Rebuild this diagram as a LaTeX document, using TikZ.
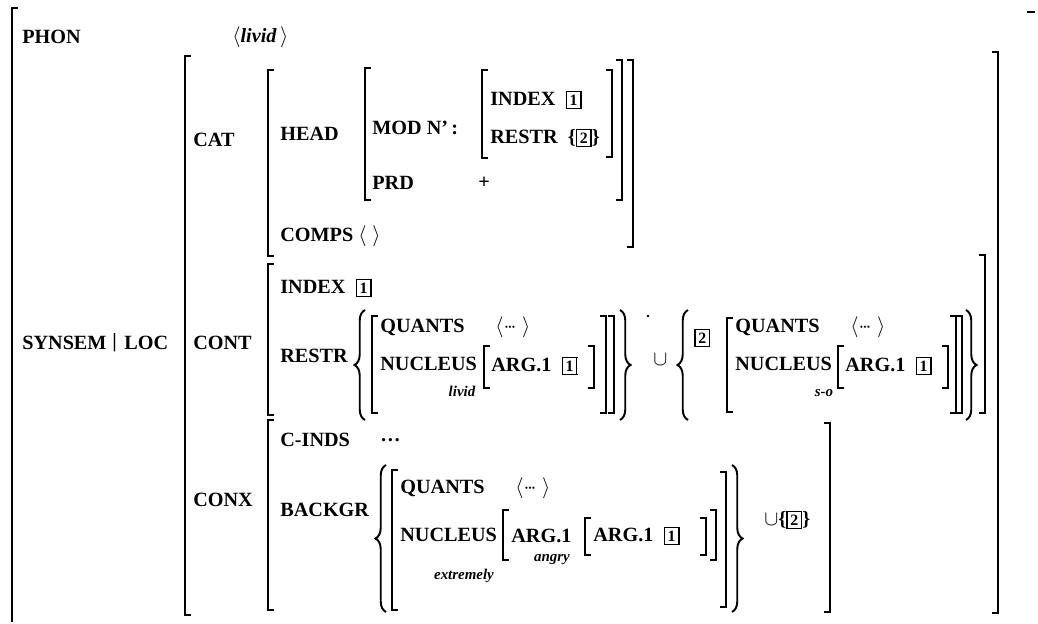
\documentclass[tikz,border=0pt]{standalone}
\usepackage{fontspec}
\setmainfont{Liberation Serif}
\usepackage{tikz}
\usetikzlibrary{decorations.pathreplacing}

\newcommand{\lbrk}[3]{\draw[brk] (#1+6,#2) -- (#1,#2) -- (#1,#3) -- (#1+6,#3);}
\newcommand{\rbrk}[3]{\draw[brk] (#1-6,#2) -- (#1,#2) -- (#1,#3) -- (#1-6,#3);}
\newcommand{\tg}[1]{{\setlength{\fboxsep}{1.5pt}\setlength{\fboxrule}{0.8pt}\fbox{\small #1}}}
\newcommand{\dts}{$\langle{\cdot}\mkern-2mu{\cdot}\mkern-2mu{\cdot}\;\rangle$}

\begin{document}
\begin{tikzpicture}[x=0.02cm, y=-0.02cm, font=\fontsize{11.5}{13}\selectfont\bfseries,
    brk/.style={line width=1.1pt},
    attr/.style={anchor=west, inner sep=0pt},
    sub/.style={anchor=center, inner sep=0pt, font=\fontsize{8.5}{10}\selectfont\bfseries\itshape},
    brc/.style={line width=1.1pt, decorate, decoration={brace, amplitude=6pt}}]
    \useasboundingbox (0,0) rectangle (1038,624);

    % outer matrix
    \draw[brk] (18,8) -- (12,8) -- (12,622);
    \draw[brk] (1027,12) -- (1035,12);
    \node[attr] (phon) at (22,37) {PHON};
    \node[attr] (phonv) at (232,37) {$\langle$\textit{livid}\,$\rangle$};
    \node[attr] (synsem) at (22,343) {SYNSEM};
    \node[attr] (bar) at (112,343) {\textbar};
    \node[attr] (loc) at (124,343) {LOC};

    % LOC value
    \lbrk{185}{56}{615}
    \rbrk{998}{52}{613}

    % CAT
    \node[attr] (cat) at (193,140) {CAT};
    \lbrk{268}{70}{256}
    \rbrk{633}{60}{247}
    \node[attr] (head) at (280,134) {HEAD};
    \lbrk{365}{68}{200}
    \rbrk{622}{60}{200}
    \node[attr] (mod) at (372,128) {MOD N'\,:};
    \lbrk{482}{70}{158}
    \rbrk{612}{70}{157}
    \node[attr] (indexa) at (490,100) {INDEX~~\tg{1}};
    \node[attr] (restra) at (490,138) {RESTR~~\{\tg{2}\}};
    \node[attr] (prd) at (372,183) {PRD};
    \node[attr] (prdv) at (478,183) {+};
    \node[attr] (comps) at (280,236) {COMPS $\langle\;\rangle$};

    % CONT
    \node[attr] (cont) at (193,343) {CONT};
    \lbrk{268}{264}{415}
    \rbrk{985}{255}{413}
    \node[attr] (indexb) at (280,288) {INDEX~~\tg{1}};
    \node[attr] (restrb) at (280,356) {RESTR};
    \draw[brc] (365,420) -- (365,310);
    \lbrk{372}{316}{413}
    \node[attr] (quantsa) at (380,327) {QUANTS};
    \node[attr] (quantsav) at (495,327) {\dts};
    \node[attr] (nucla) at (380,364) {NUCLEUS};
    \node[sub] (livid) at (462,391) {livid};
    \lbrk{484}{346}{388}
    \node[attr] (arga) at (491,366) {ARG.1~~\tg{1}};
    \rbrk{594}{346}{388}
    \rbrk{606}{316}{413}
    \rbrk{614}{316}{413}
    \draw[brc] (620,310) -- (620,420);
    \fill (648,316) circle (1.3);
    \node[attr] (cupa) at (653,360) {$\cup$};
    \draw[brc] (688,420) -- (688,310);
    \node[attr] (tagb) at (694,338) {\tg{2}};
    \lbrk{727}{318}{412}
    \node[attr] (quantsb) at (735,327) {QUANTS};
    \node[attr] (quantsbv) at (850,327) {\dts};
    \node[attr] (nuclb) at (735,364) {NUCLEUS};
    \node[sub] (so) at (824,393) {s-o};
    \lbrk{838}{346}{388}
    \node[attr] (argb) at (845,366) {ARG.1~~\tg{1}};
    \rbrk{948}{346}{388}
    \rbrk{956}{316}{413}
    \rbrk{962}{316}{413}
    \draw[brc] (966,310) -- (966,420);

    % CONX
    \node[attr] (conx) at (193,500) {CONX};
    \lbrk{268}{420}{610}
    \rbrk{830}{423}{612}
    \node[attr] (cinds) at (280,440) {C-INDS};
    \node[attr] (cindsv) at (380,440) {\dots};
    \node[attr] (backgr) at (280,510) {BACKGR};
    \draw[brc] (386,612) -- (386,465);
    \lbrk{392}{470}{610}
    \node[attr] (quantsc) at (400,488) {QUANTS};
    \node[attr] (quantscv) at (515,488) {\dts};
    \node[attr] (nuclc) at (400,535) {NUCLEUS};
    \node[sub] (extr) at (464,576) {extremely};
    \lbrk{503}{510}{560}
    \node[attr] (argc) at (511,536) {ARG.1};
    \node[sub] (angry) at (552,560) {angry};
    \lbrk{585}{518}{555}
    \node[attr] (argd) at (593,536) {ARG.1~~\tg{1}};
    \rbrk{706}{518}{555}
    \rbrk{716}{510}{560}
    \rbrk{726}{472}{607}
    \draw[brc] (732,465) -- (732,612);
    \node[attr] (cupb) at (764,520) {$\cup$\{\tg{2}\}};
\end{tikzpicture}
\end{document}
